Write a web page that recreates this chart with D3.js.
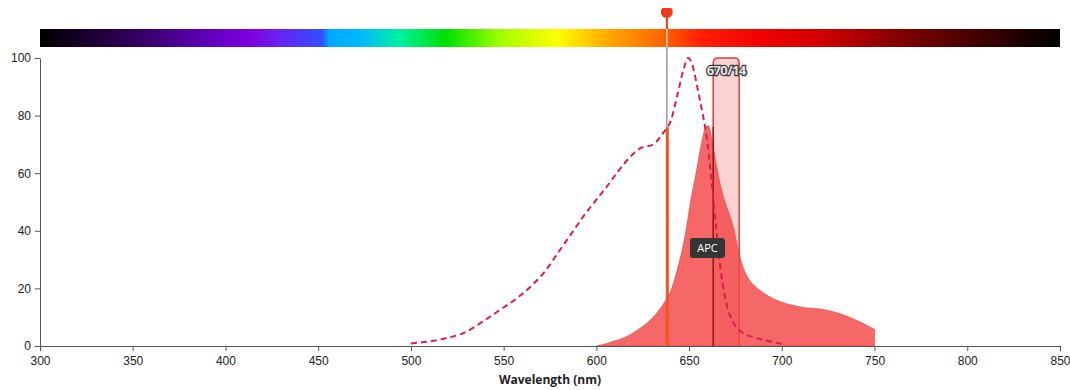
<!DOCTYPE html>
<html>
<head>
<meta charset="utf-8">
<script src="https://cdn.jsdelivr.net/npm/d3@7"></script>
<style>
  body { margin: 0; background: #fff; }
  svg { display: block; font-family: "Open Sans", sans-serif; }
</style>
</head>
<body>
<div id="chart"></div>
<script>
// excitation (dashed) - APC
const exNm  = [500, 516, 530, 539, 548, 559, 566, 573, 580, 587.6, 593, 598.4, 605.6, 611, 618, 623.5, 630.7, 636, 640, 644, 647, 649.5, 652, 655, 657.5, 660, 662, 664, 666, 668, 670, 674, 678, 685, 692, 700]
const exVal = [0.9, 2.3, 5, 8.6, 12.5, 17.5, 21.5, 26.5, 33, 40, 45, 49.5, 55.3, 60, 65.5, 68.6, 70, 74, 78, 88, 96, 100, 97, 88, 80, 70, 58, 45, 32, 22, 15, 8, 5, 3, 1.8, 0.8]

// emission (filled) - APC
const emNm  = [600, 605, 610, 616, 622, 627, 631, 636, 640, 644, 648, 651, 654, 657, 659, 660.5, 662, 665, 668, 670, 674, 677, 680, 683, 686, 690, 697, 705, 713, 722, 728, 735, 740, 745, 750]
const emVal = [0, 0.8, 1.8, 3.2, 5.5, 7.8, 10.3, 14.5, 19, 27.5, 39, 51, 61, 71.5, 76, 76.5, 73, 62, 53, 49, 41, 32, 26, 22.5, 20.5, 18.5, 16, 14.3, 13.3, 12.8, 11.9, 10.4, 9, 7.5, 5.8]

const xTicks = [300, 350, 400, 450, 500, 550, 600, 650, 700, 750, 800, 850]
const yTicks = [0, 20, 40, 60, 80, 100]

// visible spectrum colour bar
const specNm  = [300, 350, 386, 413, 428, 452, 456, 472, 494, 519, 548, 579, 609, 634, 656, 690, 721, 764, 818, 850]
const specCol = ['#000000', '#30005a', '#5a00b0', '#8000e0', '#6a20f0', '#3050ff', '#00a8ff', '#00b8ff', '#00f0a0', '#00e000', '#a0ff00', '#ffff00', '#ffa000', '#ff6a00', '#ff2000', '#f00000', '#d00000', '#800000', '#300000', '#000000']

const laserNm = 638
const filterCenter = 670
const filterWidth = 14
const filterName = '670/14'
const dyeName = 'APC'

const W = 1070, H = 390
const m = {left: 40, right: 10, top: 58, bottom: 44}

const svg = d3.select('#chart').append('svg')
    .attr('width', W)
    .attr('height', H)

const x = d3.scaleLinear().domain([300, 850]).range([m.left, W - m.right])
const y = d3.scaleLinear().domain([0, 100]).range([H - m.bottom, m.top])

const defs = svg.append('defs')
const grad = defs.append('linearGradient')
    .attr('id', 'spec')
    .attr('x1', '0%').attr('x2', '100%')
grad.selectAll('stop')
    .data(specNm)
    .enter()
    .append('stop')
    .attr('offset', (d) => ((d - 300) / 550 * 100) + '%')
    .attr('stop-color', (d, i) => specCol[i])

defs.append('clipPath').attr('id', 'topclip')
    .append('rect').attr('x', 0).attr('y', 8).attr('width', W).attr('height', H)

// colour bar
svg.append('rect')
    .attr('x', x(300))
    .attr('y', 29)
    .attr('width', x(850) - x(300))
    .attr('height', 18)
    .attr('fill', 'url(#spec)')

// filter band
const fx0 = x(filterCenter - filterWidth / 2)
const fx1 = x(filterCenter + filterWidth / 2)
svg.append('path')
    .attr('d', `M${fx0},${y(0)} V${y(100) + 5} Q${fx0},${y(100)} ${fx0 + 5},${y(100)} H${fx1 - 5} Q${fx1},${y(100)} ${fx1},${y(100) + 5} V${y(0)}`)
    .attr('fill', 'rgba(245,130,130,0.35)')
    .attr('stroke', '#e23a3a')
    .attr('stroke-width', 1.5)

// emission area
const area = d3.area()
    .x((d) => x(d[0]))
    .y0(y(0))
    .y1((d) => y(d[1]))
    .curve(d3.curveMonotoneX)
svg.append('path')
    .datum(emNm.map((d, i) => [d, emVal[i]]))
    .attr('d', area)
    .attr('fill', 'rgba(244,70,70,0.82)')
    .attr('stroke', 'rgba(200,40,40,0.5)')
    .attr('stroke-width', 0.8)

// filter left edge shows dark through the fill
svg.append('line')
    .attr('x1', fx0).attr('x2', fx0)
    .attr('y1', y(0)).attr('y2', y(76))
    .attr('stroke', '#7a1010')
    .attr('stroke-width', 1.2)

// excitation dashed
const line = d3.line()
    .x((d) => x(d[0]))
    .y((d) => y(d[1]))
    .curve(d3.curveMonotoneX)
svg.append('path')
    .datum(exNm.map((d, i) => [d, exVal[i]]))
    .attr('d', line)
    .attr('fill', 'none')
    .attr('stroke', '#d91e4e')
    .attr('stroke-width', 2)
    .attr('stroke-dasharray', '6,4')

// laser
const lx = x(laserNm)
const exAtLaser = 76
svg.append('line')
    .attr('x1', lx).attr('x2', lx)
    .attr('y1', 12).attr('y2', y(0))
    .attr('stroke', '#9a9a9a')
    .attr('stroke-width', 1.5)
svg.append('line')
    .attr('x1', lx + 0.5).attr('x2', lx + 0.5)
    .attr('y1', y(exAtLaser)).attr('y2', y(0))
    .attr('stroke', '#f2551f')
    .attr('stroke-width', 3)
svg.append('line')
    .attr('x1', lx).attr('x2', lx)
    .attr('y1', 29).attr('y2', 47)
    .attr('stroke', 'rgba(255,220,180,0.7)')
    .attr('stroke-width', 1.5)
svg.append('line')
    .attr('x1', lx).attr('x2', lx)
    .attr('y1', 12).attr('y2', 29)
    .attr('stroke', '#f03a1a')
    .attr('stroke-width', 2)
svg.append('circle')
    .attr('clip-path', 'url(#topclip)')
    .attr('cx', lx).attr('cy', 12)
    .attr('r', 6)
    .attr('fill', '#f03a1a')

// axes
const xAxis = svg.append('g')
    .attr('transform', `translate(0,${y(0)})`)
    .call(d3.axisBottom(x).tickValues(xTicks).tickSize(5).tickSizeOuter(0))
const yAxis = svg.append('g')
    .attr('transform', `translate(${m.left},0)`)
    .call(d3.axisLeft(y).tickValues(yTicks).tickSize(5).tickSizeOuter(0))
svg.selectAll('.domain, .tick line').attr('stroke', '#555')
svg.selectAll('.tick text').attr('fill', '#222').style('font-size', '12px')
xAxis.selectAll('.tick text').attr('dy', '0.9em')
yAxis.selectAll('.tick text').attr('dx', '-1px')

svg.append('text')
    .attr('x', (x(300) + x(850)) / 2)
    .attr('y', 384)
    .attr('text-anchor', 'middle')
    .style('font-size', '12px')
    .style('font-weight', 'bold')
    .attr('fill', '#222')
    .text('Wavelength (nm)')

// filter label
svg.append('text')
    .attr('x', (fx0 + fx1) / 2)
    .attr('y', 75)
    .attr('text-anchor', 'middle')
    .style('font-size', '13px')
    .style('font-weight', 'bold')
    .attr('fill', '#e4e4e4')
    .attr('stroke', '#3a3a3a')
    .attr('stroke-width', 2.5)
    .attr('paint-order', 'stroke')
    .style('letter-spacing', '-0.6px')
    .text(filterName)

// dye label
svg.append('rect')
    .attr('x', 690).attr('y', 238)
    .attr('width', 35).attr('height', 20)
    .attr('rx', 3)
    .attr('fill', '#353535')
svg.append('text')
    .attr('x', 707.5).attr('y', 252)
    .attr('text-anchor', 'middle')
    .style('font-size', '11px')
    .attr('fill', '#fff')
    .text(dyeName)
</script>
</body>
</html>
